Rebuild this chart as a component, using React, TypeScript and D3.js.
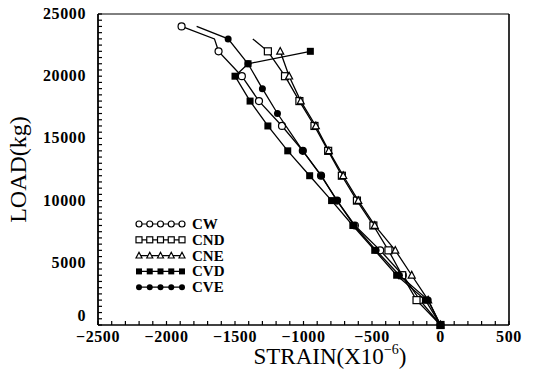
import React from "react";
import * as d3 from "d3";

// ---- data ----
const cwLoad = [0, 2000, 4000, 6000, 8000, 10000, 12000, 14000, 16000, 18000, 20000, 22000, 23000, 24000];
const cwStrain = [0, -150, -275, -440, -625, -755, -872, -1005, -1157, -1325, -1450, -1620, -1650, -1890];
const cwMarked = [1, 1, 1, 1, 1, 1, 1, 1, 1, 1, 1, 1, 0, 1];

const cndLoad = [0, 2000, 4000, 6000, 8000, 10000, 12000, 14000, 16000, 18000, 20000, 22000, 23000];
const cndStrain = [0, -175, -280, -380, -490, -610, -720, -820, -920, -1030, -1135, -1260, -1370];
const cndMarked = [1, 1, 1, 1, 1, 1, 1, 1, 1, 1, 1, 1, 0];

const cneLoad = [0, 2000, 4000, 6000, 8000, 10000, 12000, 14000, 16000, 18000, 20000, 22000];
const cneStrain = [0, -90, -210, -330, -480, -600, -710, -815, -910, -1020, -1105, -1170];
const cneMarked = [1, 1, 1, 1, 1, 1, 1, 1, 1, 1, 1, 1];

const cvdLoad = [0, 2000, 4000, 6000, 8000, 10000, 12000, 14000, 16000, 18000, 20000, 21000, 22000];
const cvdStrain = [0, -110, -320, -480, -640, -795, -955, -1115, -1260, -1390, -1500, -1405, -950];
const cvdMarked = [1, 1, 1, 1, 1, 1, 1, 1, 1, 1, 1, 1, 1];

const cveLoad = [0, 2000, 4000, 6000, 8000, 10000, 12000, 14000, 17000, 19000, 21000, 23000, 24000];
const cveStrain = [0, -90, -300, -470, -630, -755, -870, -1005, -1190, -1300, -1405, -1550, -1780];
const cveMarked = [1, 1, 1, 1, 1, 1, 1, 1, 1, 1, 1, 1, 0];

const seriesNames = ["CW", "CND", "CNE", "CVD", "CVE"];
const seriesMarkers = ["openCircle", "openSquare", "openTriangle", "filledSquare", "filledCircle"];

const xTicks = [-2500, -2000, -1500, -1000, -500, 0, 500];
const yTicks = [0, 5000, 10000, 15000, 20000, 25000];

const series = [
  { name: seriesNames[0], marker: seriesMarkers[0], load: cwLoad, strain: cwStrain, marked: cwMarked },
  { name: seriesNames[1], marker: seriesMarkers[1], load: cndLoad, strain: cndStrain, marked: cndMarked },
  { name: seriesNames[2], marker: seriesMarkers[2], load: cneLoad, strain: cneStrain, marked: cneMarked },
  { name: seriesNames[3], marker: seriesMarkers[3], load: cvdLoad, strain: cvdStrain, marked: cvdMarked },
  { name: seriesNames[4], marker: seriesMarkers[4], load: cveLoad, strain: cveStrain, marked: cveMarked },
];

const FONT = "'Liberation Serif', 'DejaVu Serif', serif";

function Marker({ type, cx, cy, s }: { type: string; cx: number; cy: number; s: number }) {
  const r = s / 2;
  switch (type) {
    case "openCircle":
      return <circle cx={cx} cy={cy} r={r} fill="#fff" stroke="#000" strokeWidth={1.2} />;
    case "openSquare":
      return <rect x={cx - r} y={cy - r} width={s} height={s} fill="#fff" stroke="#000" strokeWidth={1.2} />;
    case "openTriangle":
      return (
        <path
          d={`M${cx},${cy - r * 1.1}L${cx + r},${cy + r * 0.8}L${cx - r},${cy + r * 0.8}Z`}
          fill="#fff"
          stroke="#000"
          strokeWidth={1.2}
        />
      );
    case "filledSquare":
      return <rect x={cx - r} y={cy - r} width={s} height={s} fill="#000" />;
    default:
      return <circle cx={cx} cy={cy} r={r} fill="#000" />;
  }
}

export default function App() {
  const W = 539;
  const H = 373;
  const x = d3.scaleLinear().domain([-2500, 500]).range([98, 509]);
  const y = d3.scaleLinear().domain([0, 25000]).range([325, 14]);
  const line = d3
    .line<[number, number]>()
    .x((d) => x(d[0]))
    .y((d) => y(d[1]));

  const xMinor = d3.range(-2500, 501, 100);
  const yMinor = d3.range(0, 25001, 500);

  const legendX0 = 139;
  const legendX1 = 182;
  const legendY0 = 224;
  const legendDy = 15.8;

  return (
    <svg
      width={W}
      height={H}
      style={{ position: "absolute", left: 0, top: 0, background: "#fff" }}
      fontFamily={FONT}
    >
      <rect width={W} height={H} fill="#fff" />
      {/* frame */}
      <line x1={x(-2500)} x2={x(500)} y1={y(25000)} y2={y(25000)} stroke="#000" strokeWidth={1} />
      <line x1={x(500)} x2={x(500)} y1={y(25000)} y2={y(0)} stroke="#000" strokeWidth={1.6} />
      <line x1={x(-2500)} x2={x(-2500)} y1={y(25000)} y2={y(0)} stroke="#000" strokeWidth={1.8} />
      <line x1={x(-2500)} x2={x(500)} y1={y(0)} y2={y(0)} stroke="#000" strokeWidth={1.6} />
      {/* minor ticks */}
      {xMinor.map((v) => (
        <line key={"xm" + v} x1={x(v)} x2={x(v)} y1={y(0)} y2={y(0) - 4} stroke="#000" strokeWidth={1.2} />
      ))}
      {yMinor.map((v) => (
        <line key={"ym" + v} x1={x(-2500)} x2={x(-2500) + 4} y1={y(v)} y2={y(v)} stroke="#000" strokeWidth={1.2} />
      ))}
      {/* tick labels */}
      {xTicks.map((v) => (
        <text
          key={"xt" + v}
          x={x(v)}
          y={y(0) + 17}
          textAnchor="middle"
          fontSize={16}
          letterSpacing={0.6}
          fontWeight="bold"
          fill="#000"
        >
          {v < 0 ? "\u2212" + Math.abs(v) : String(v)}
        </text>
      ))}
      {yTicks.map((v) => (
        <text
          key={"yt" + v}
          x={x(-2500) - 12}
          y={y(v) + (v === 0 ? -4 : 5)}
          textAnchor="end"
          fontSize={16}
          letterSpacing={0.6}
          fontWeight="bold"
          fill="#000"
        >
          {String(v)}
        </text>
      ))}
      {/* axis titles */}
      <text x={330} y={364} textAnchor="middle" fontSize={23} fill="#000">
        STRAIN(X10
        <tspan dy={-10} fontSize={14}>
          {"\u22126"}
        </tspan>
        <tspan dy={10}>)</tspan>
      </text>
      <text
        transform={`translate(26,${(y(0) + y(25000)) / 2}) rotate(-90)`}
        textAnchor="middle"
        fontSize={24}
        fill="#000"
      >
        LOAD(kg)
      </text>
      {/* series */}
      {series.map((s) => {
        const pts: [number, number][] = s.strain.map((v, i) => [v, s.load[i]]);
        return (
          <g key={s.name}>
            <path d={line(pts) || ""} fill="none" stroke="#000" strokeWidth={1.3} />
            {pts.map((p, i) =>
              s.marked[i] ? (
                <Marker key={i} type={s.marker} cx={x(p[0])} cy={y(p[1])} s={7} />
              ) : null
            )}
          </g>
        );
      })}
      {/* legend */}
      {series.map((s, i) => {
        const ly = legendY0 + i * legendDy;
        const xs = d3.range(5).map((k) => legendX0 + ((legendX1 - legendX0) * k) / 4);
        return (
          <g key={"lg" + s.name}>
            <line x1={legendX0} x2={legendX1} y1={ly} y2={ly} stroke="#000" strokeWidth={1.2} />
            {xs.map((lx, k) => (
              <Marker key={k} type={s.marker} cx={lx} cy={ly} s={6} />
            ))}
            <text x={192} y={ly + 5} fontSize={15} fontWeight="bold" fill="#000">
              {s.name}
            </text>
          </g>
        );
      })}
    </svg>
  );
}
